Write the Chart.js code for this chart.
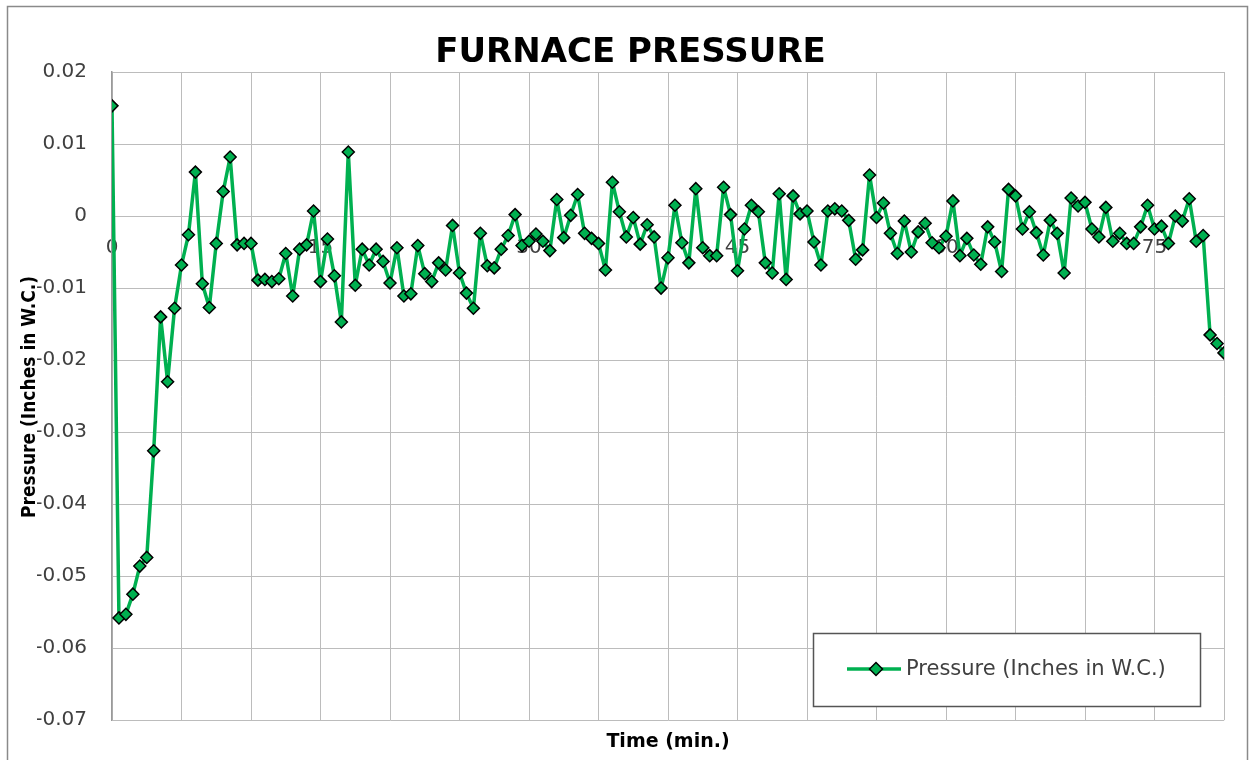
<!DOCTYPE html>
<html>
<head>
<meta charset="utf-8">
<script src="https://cdn.jsdelivr.net/npm/chart.js@4.4.1/dist/chart.umd.min.js"></script>
<style>
  body { margin: 0; background: #fff; }
</style>
</head>
<body>
<canvas id="chart" width="1251" height="760"></canvas>
<script>
// time in minutes, one reading every half minute
const times = [
  0, 0.5, 1, 1.5, 2, 2.5, 3, 3.5, 4, 4.5, 5, 5.5, 6, 6.5, 7, 7.5, 8, 8.5, 9, 9.5,
  10, 10.5, 11, 11.5, 12, 12.5, 13, 13.5, 14, 14.5, 15, 15.5, 16, 16.5, 17, 17.5, 18, 18.5, 19, 19.5,
  20, 20.5, 21, 21.5, 22, 22.5, 23, 23.5, 24, 24.5, 25, 25.5, 26, 26.5, 27, 27.5, 28, 28.5, 29, 29.5,
  30, 30.5, 31, 31.5, 32, 32.5, 33, 33.5, 34, 34.5, 35, 35.5, 36, 36.5, 37, 37.5, 38, 38.5, 39, 39.5,
  40, 40.5, 41, 41.5, 42, 42.5, 43, 43.5, 44, 44.5, 45, 45.5, 46, 46.5, 47, 47.5, 48, 48.5, 49, 49.5,
  50, 50.5, 51, 51.5, 52, 52.5, 53, 53.5, 54, 54.5, 55, 55.5, 56, 56.5, 57, 57.5, 58, 58.5, 59, 59.5,
  60, 60.5, 61, 61.5, 62, 62.5, 63, 63.5, 64, 64.5, 65, 65.5, 66, 66.5, 67, 67.5, 68, 68.5, 69, 69.5,
  70, 70.5, 71, 71.5, 72, 72.5, 73, 73.5, 74, 74.5, 75, 75.5, 76, 76.5, 77, 77.5, 78, 78.5, 79, 79.5,
  80
];

// Pressure (Inches in W.C.)
const pressure = [
  0.0153, -0.0558, -0.0553, -0.0525, -0.0486, -0.0474, -0.0326, -0.0140, -0.0230, -0.0128,
  -0.0068, -0.0026, 0.0061, -0.0094, -0.0127, -0.0038, 0.0034, 0.0082, -0.0040, -0.0038,
  -0.0038, -0.0089, -0.0088, -0.0091, -0.0087, -0.0052, -0.0111, -0.0046, -0.0040, 0.0007,
  -0.0091, -0.0032, -0.0083, -0.0147, 0.0089, -0.0096, -0.0046, -0.0068, -0.0046, -0.0063,
  -0.0093, -0.0044, -0.0111, -0.0108, -0.0041, -0.0080, -0.0091, -0.0065, -0.0075, -0.0013,
  -0.0079, -0.0107, -0.0128, -0.0024, -0.0069, -0.0072, -0.0046, -0.0027, 0.0002, -0.0041,
  -0.0035, -0.0025, -0.0035, -0.0048, 0.0023, -0.0030, 0.0001, 0.0030, -0.0024, -0.0031,
  -0.0038, -0.0075, 0.0047, 0.0006, -0.0029, -0.0002, -0.0039, -0.0012, -0.0029, -0.0100,
  -0.0058, 0.0015, -0.0037, -0.0065, 0.0038, -0.0044, -0.0055, -0.0055, 0.0040, 0.0002,
  -0.0076, -0.0018, 0.0015, 0.0006, -0.0065, -0.0079, 0.0031, -0.0088, 0.0028, 0.0003,
  0.0007, -0.0036, -0.0068, 0.0007, 0.0010, 0.0007, -0.0006, -0.0060, -0.0047, 0.0057,
  -0.0002, 0.0018, -0.0024, -0.0052, -0.0007, -0.0050, -0.0022, -0.0010, -0.0037, -0.0044,
  -0.0028, 0.0021, -0.0055, -0.0031, -0.0054, -0.0067, -0.0015, -0.0036, -0.0077, 0.0037,
  0.0028, -0.0018, 0.0006, -0.0023, -0.0054, -0.0006, -0.0024, -0.0079, 0.0025, 0.0014,
  0.0019, -0.0018, -0.0029, 0.0012, -0.0035, -0.0024, -0.0038, -0.0038, -0.0015, 0.0015,
  -0.0018, -0.0014, -0.0038, 0.0000, -0.0007, 0.0024, -0.0035, -0.0027, -0.0165, -0.0177,
  -0.0190
];

const xLabelled = [0, 15, 30, 45, 60, 75];
const xRange = [0, 80, 5];          // min, max, grid step
const yRange = [-0.07, 0.02, 0.01]; // min, max, step

const GREEN = '#00b050';
const GRID = '#bcbcbc';
const TICK_FONT = { family: 'DejaVu Sans', size: 20 };

// white page + thin frame round the whole chart
const frame = {
    id: 'frame',
    beforeDraw(chart) {
        const { ctx } = chart;
        ctx.save();
        ctx.fillStyle = '#fff';
        ctx.fillRect(0, 0, chart.width, chart.height);
        ctx.strokeStyle = '#8a8a8a';
        ctx.lineWidth = 1.5;
        ctx.strokeRect(7.5, 6.5, 1240, 800);
        ctx.restore();
    }
};

// rotated y title sits over the tick labels, like the original
const yTitle = {
    id: 'yTitle',
    afterDraw(chart) {
        const { ctx } = chart;
        ctx.save();
        ctx.translate(30, 397);
        ctx.rotate(-Math.PI / 2);
        ctx.font = "bold 19px 'Liberation Sans Narrow', 'DejaVu Sans Condensed', sans-serif";
        ctx.fillStyle = '#000';
        ctx.textAlign = 'center';
        ctx.textBaseline = 'middle';
        ctx.fillText('Pressure (Inches in W.C.)', 0, 0);
        ctx.restore();
    }
};

// boxed legend in the lower right of the plot
const boxLegend = {
    id: 'boxLegend',
    afterDraw(chart) {
        const { ctx } = chart;
        const ds = chart.data.datasets[0];
        const y = 669;
        const mx = 876;
        const r = ds.pointRadius + 0.5;
        ctx.save();
        ctx.fillStyle = '#fff';
        ctx.fillRect(813, 633, 387, 73);
        ctx.strokeStyle = '#555';
        ctx.lineWidth = 1.5;
        ctx.strokeRect(813.5, 633.5, 387, 73);

        ctx.strokeStyle = ds.borderColor;
        ctx.lineWidth = ds.borderWidth;
        ctx.beginPath();
        ctx.moveTo(847, y);
        ctx.lineTo(901, y);
        ctx.stroke();

        ctx.fillStyle = ds.pointBackgroundColor;
        ctx.strokeStyle = ds.pointBorderColor;
        ctx.lineWidth = ds.pointBorderWidth;
        ctx.beginPath();
        ctx.moveTo(mx - r, y);
        ctx.lineTo(mx, y - r);
        ctx.lineTo(mx + r, y);
        ctx.lineTo(mx, y + r);
        ctx.closePath();
        ctx.fill();
        ctx.stroke();

        ctx.fillStyle = '#404040';
        ctx.font = "21px 'DejaVu Sans', sans-serif";
        ctx.textBaseline = 'middle';
        ctx.fillText(ds.label, 906, y + 1);
        ctx.restore();
    }
};

new Chart(document.getElementById('chart'), {
    type: 'line',
    data: {
        datasets: [
            {
                label: 'Pressure (Inches in W.C.)',
                data: times.map((t, i) => ({ x: t, y: pressure[i] })),
                borderColor: GREEN,
                borderWidth: 3.5,
                borderJoinStyle: 'round',
                borderCapStyle: 'round',
                tension: 0,
                pointStyle: 'rectRot',
                pointRadius: 6,
                pointBackgroundColor: GREEN,
                pointBorderColor: '#000',
                pointBorderWidth: 1.5,
            }
        ]
    },
    options: {
        responsive: false,
        animation: false,
        devicePixelRatio: 1,
        layout: { padding: { left: 37, right: 27, top: 0, bottom: 0 } },
        plugins: {
            legend: { display: false },
            tooltip: { enabled: false },
            title: {
                display: true,
                text: 'FURNACE PRESSURE',
                color: '#000',
                font: { family: 'DejaVu Sans', size: 34, weight: 'bold', lineHeight: 1.1 },
                padding: { top: 34, bottom: 0.6 }
            },
            subtitle: {
                display: true,
                position: 'bottom',
                fullSize: false,
                text: 'Time (min.)',
                color: '#000',
                font: { family: 'DejaVu Sans', size: 19, weight: 'bold' },
                padding: { top: 10, bottom: 7 }
            }
        },
        scales: {
            x: {
                type: 'linear',
                position: { y: 0 },
                min: xRange[0],
                max: xRange[1],
                grid: { color: GRID, lineWidth: 1, drawTicks: false },
                border: { display: false },
                ticks: {
                    stepSize: xRange[2],
                    autoSkip: false,
                    maxRotation: 0,
                    padding: 20,
                    color: '#404040',
                    font: TICK_FONT,
                    callback: v => xLabelled.includes(v) ? String(v) : ''
                }
            },
            y: {
                min: yRange[0],
                max: yRange[1],
                afterFit: scale => { scale.width = 75; },
                grid: { color: GRID, lineWidth: 1, drawTicks: false },
                border: { color: '#9a9a9a', width: 1.5 },
                ticks: {
                    stepSize: yRange[2],
                    padding: 25,
                    color: '#404040',
                    font: TICK_FONT,
                    callback: v => {
                        const r = Math.round(v * 100) / 100;
                        return r === 0 ? '0' : String(r);
                    }
                }
            }
        }
    },
    plugins: [frame, yTitle, boxLegend]
})
</script>
</body>
</html>
